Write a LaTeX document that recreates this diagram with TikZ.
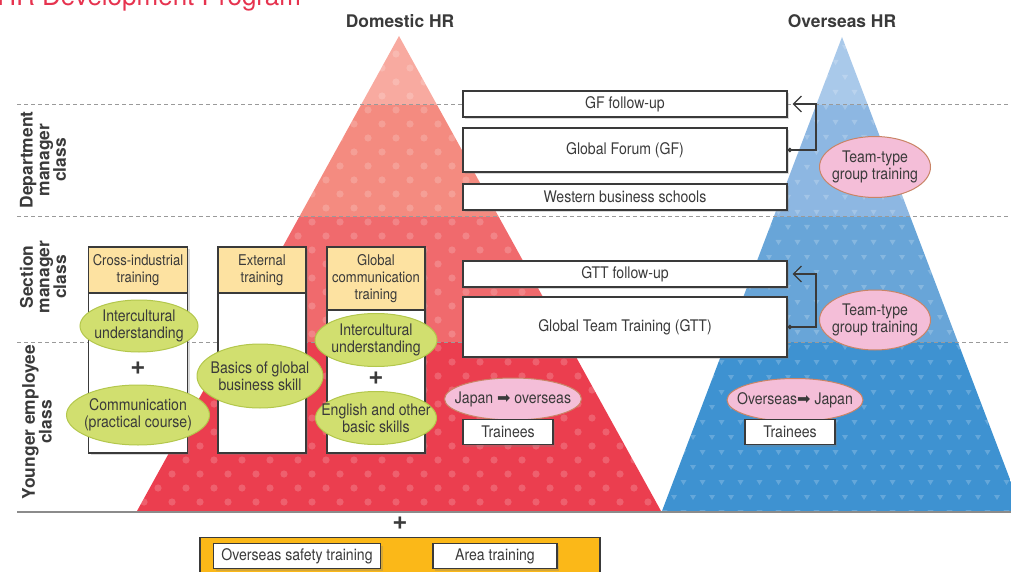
\documentclass[tikz,border=0pt]{standalone}
\usepackage{fontspec}
\setmainfont{TeX Gyre Heros}
\newfontfamily\condfont{TeX Gyre Heros}[FakeStretch=0.88]
\newfontfamily\symfont{DejaVu Sans}
\usetikzlibrary{arrows.meta,shapes.geometric,shadows}
\definecolor{hrred}{HTML}{E6334F}
\definecolor{redA}{HTML}{F8AAA0}
\definecolor{redB}{HTML}{F48B80}
\definecolor{redC}{HTML}{F06A6D}
\definecolor{redD}{HTML}{EB3E4F}
\definecolor{blueA}{HTML}{A9C9EA}
\definecolor{blueB}{HTML}{8DB7E2}
\definecolor{blueC}{HTML}{68A5D8}
\definecolor{blueD}{HTML}{3E92D1}
\definecolor{headfill}{HTML}{FDE2A1}
\definecolor{greenfill}{HTML}{D1DF6F}
\definecolor{greenline}{HTML}{B3C74C}
\definecolor{pinkfill}{HTML}{F4BED8}
\definecolor{pinkline}{HTML}{C98466}
\definecolor{areafill}{HTML}{FBB818}
\definecolor{inkgray}{HTML}{3A3A3A}
\definecolor{rulegray}{HTML}{9A9A9A}
\newcommand{\rarr}{{\symfont\symbol{"27A1}}}
\newcommand{\boxfont}{\condfont\fontsize{8}{8.3}\selectfont}
\newcommand{\headfont}{\condfont\fontsize{7.4}{8.3}\selectfont}

\begin{document}
\begin{tikzpicture}[x=0.5pt, y=-0.5pt,
  >={Straight Barb[length=4pt, width=8pt]},
  box/.style={draw=inkgray, fill=white, line width=0.6pt, font=\boxfont,
    text=inkgray, inner sep=0pt, align=center,
    drop shadow={shadow xshift=1.2pt, shadow yshift=-1.2pt, opacity=0.3}},
  head/.style={draw=inkgray, fill=headfill, line width=0.6pt, font=\headfont,
    text=inkgray, inner sep=0pt, align=center, anchor=north},
  greenell/.style={ellipse, draw=greenline, fill=greenfill, line width=0.5pt,
    font=\boxfont, text=inkgray, inner xsep=-6pt, inner ysep=-2pt, align=center},
  pinkell/.style={ellipse, draw=pinkline, fill=pinkfill, line width=0.5pt,
    font=\boxfont, text=inkgray, inner xsep=-6pt, inner ysep=-2pt, align=center},
  lvl/.style={rotate=90, font=\bfseries\fontsize{8.7}{8.3}\selectfont,
    text=inkgray, align=center, inner sep=0pt},
  hrlab/.style={font=\bfseries\fontsize{8.7}{9}\selectfont, text=inkgray, inner sep=0pt},
  plus/.style={font=\bfseries\fontsize{13}{13}\selectfont, text=inkgray, inner sep=0pt},
  rule/.style={draw=rulegray, line width=0.5pt, dash pattern=on 2pt off 1.5pt}
]
\useasboundingbox (0,0) rectangle (1011,572);
% domestic pyramid
\begin{scope}
  \clip (399,36) -- (137,511) -- (661,511) -- cycle;
  \fill[redA] (130,30) rectangle (670,105);
  \fill[redB] (130,105) rectangle (670,217);
  \fill[redC] (130,217) rectangle (670,342);
  \fill[redD] (130,342) rectangle (670,512);
  \foreach \r in {0,...,34}
    \foreach \c in {0,...,19}
      \fill[white, opacity=0.18] ({130+\c*28+mod(\r,2)*14}, {40+\r*14}) circle (1.8pt);
\end{scope}
% overseas pyramid
\begin{scope}
  \clip (842,37) -- (662,511) -- (1022,511) -- cycle;
  \fill[blueA] (650,30) rectangle (1030,105);
  \fill[blueB] (650,105) rectangle (1030,217);
  \fill[blueC] (650,217) rectangle (1030,342);
  \fill[blueD] (650,342) rectangle (1030,512);
  \foreach \r in {0,...,31}
    \foreach \c in {0,...,20} {
      \pgfmathsetmacro{\tx}{655+\c*19+mod(\r,2)*9.5}
      \pgfmathsetmacro{\ty}{45+\r*15}
      \fill[white, opacity=0.2] (\tx-3,\ty) -- (\tx+3,\ty) -- (\tx,\ty+5) -- cycle;
    }
\end{scope}
% class borders
\draw[rule] (17,105) -- (1011,105);
\draw[rule] (17,217) -- (1011,217);
\draw[rule] (17,342) -- (1011,342);
\draw[draw=rulegray!90!black, line width=0.8pt] (17,512) -- (1011,512);

% title and headings
\node[anchor=base west, text=hrred, font=\fontsize{13}{13}\selectfont, inner sep=0pt]
  (title) at (-3,6) {HR Development Program};
\node[hrlab] (domhr) at (400,21) {Domestic HR};
\node[hrlab] (ovshr) at (842,21) {Overseas HR};
\node[lvl] (dept) at (43,160) {Department\\manager\\class};
\node[lvl] (sect) at (43,277) {Section\\manager\\class};
\node[lvl] (young) at (37,422) {Younger employee\\class};

% global programmes
\node[box, minimum width=162pt, minimum height=13pt] (gfup) at (625,104) {GF follow-up};
\node[box, minimum width=162pt, minimum height=22pt] (gf) at (625,150) {Global Forum (GF)};
\node[box, minimum width=162pt, minimum height=13pt] (wbs) at (625,197) {Western business schools};
\node[box, minimum width=162pt, minimum height=13pt] (gttup) at (625,274) {GTT follow-up};
\node[box, minimum width=162pt, minimum height=30pt] (gtt) at (625,327) {Global Team Training (GTT)};
\node[pinkell, minimum width=55.5pt, minimum height=30.5pt] (team1) at (875,167)
  {Team-type\\group training};
\node[pinkell, minimum width=55.5pt, minimum height=30pt] (team2) at (875,320)
  {Team-type\\group training};
\draw[{Circle[length=2.2pt]}->, line width=0.6pt, draw=inkgray, shorten >=2.5pt]
  (gf.east) -| (816,104) -- (gfup.east);
\draw[{Circle[length=2.2pt]}->, line width=0.6pt, draw=inkgray, shorten >=2.5pt]
  (gtt.east) -| (816,274) -- (gttup.east);

% trainee exchange
\node[pinkell, minimum width=68.5pt, minimum height=21pt] (jo) at (513,399)
  {Japan \rarr\ overseas};
\node[box, minimum width=45pt, minimum height=12.5pt] (trj) at (508,432) {Trainees};
\node[pinkell, minimum width=68pt, minimum height=21.5pt] (oj) at (795,400)
  {Overseas\rarr\ Japan};
\node[box, minimum width=45pt, minimum height=12.5pt] (tro) at (790,432) {Trainees};

% training columns
\node[box, minimum width=49.5pt, minimum height=103pt] (col1) at (138,350) {};
\node[head, minimum width=49.5pt, minimum height=23pt] (h1) at (col1.north)
  {Cross-industrial\\training};
\node[box, minimum width=44pt, minimum height=103pt] (col2) at (262,350) {};
\node[head, minimum width=44pt, minimum height=23pt] (h2) at (col2.north)
  {External\\training};
\node[box, minimum width=49pt, minimum height=103pt] (col3) at (376,350) {};
\node[head, minimum width=49pt, minimum height=31.5pt] (h3) at (col3.north)
  {Global\\communication\\training};
\node[greenell, minimum width=59pt, minimum height=26pt] (ic1) at (139,326)
  {Intercultural\\understanding};
\node[plus] (plus1) at (138,368) {+};
\node[greenell, minimum width=71.5pt, minimum height=30pt] (comm) at (138,415)
  {Communication\\(practical course)};
\node[greenell, minimum width=63pt, minimum height=32pt] (basics) at (260,376)
  {Basics of global\\business skill};
\node[greenell, minimum width=61pt, minimum height=26.5pt] (ic2) at (376,340)
  {Intercultural\\understanding};
\node[plus] (plus2) at (376,378) {+};
\node[greenell, minimum width=60.5pt, minimum height=26.5pt] (eng) at (376,418)
  {English and other\\basic skills};

% common training
\node[plus] (plus3) at (400,523) {+};
\node[draw=inkgray, fill=areafill, line width=0.6pt, minimum width=200pt,
  minimum height=25pt, anchor=north, inner sep=0pt] (area) at (400,537) {};
\node[box, minimum width=83.5pt, minimum height=12.5pt] (safety) at (297,556)
  {Overseas safety training};
\node[box, minimum width=62pt, minimum height=12.5pt] (areatr) at (495,556)
  {Area training};
\end{tikzpicture}
\end{document}
